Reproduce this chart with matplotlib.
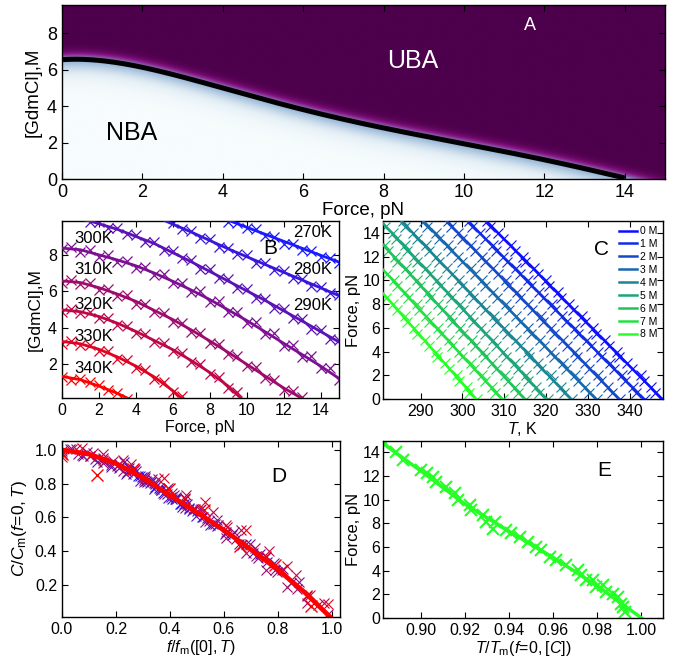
import matplotlib
matplotlib.use("Agg")
import matplotlib.pyplot as plt
import matplotlib.ticker as mticker
import numpy as np

plt.rcParams.update({
    "font.family": "Liberation Sans",
    "font.size": 11.5,
    "mathtext.fontset": "custom",
    "mathtext.rm": "Liberation Sans",
    "mathtext.it": "Liberation Sans:italic",
    "xtick.direction": "in",
    "ytick.direction": "in",
    "xtick.top": True,
    "ytick.right": True,
    "xtick.major.size": 4,
    "ytick.major.size": 4,
    "axes.linewidth": 1.0,
})

# ---- panel A: phase boundary at fixed T ----
A_FORCE = [0, 1, 2, 3, 4, 5, 6, 7, 8, 9, 10, 11, 12, 13, 14]
A_CONC = [6.55, 6.48, 6.15, 5.62, 4.95, 4.38, 3.80, 3.33, 2.80, 2.33, 1.95, 1.50, 1.05, 0.59, 0.05]

# ---- panel B: [GdmCl] vs force, one curve per temperature ----
TEMPS = [270, 280, 290, 300, 310, 320, 330, 340]
B_FIT_F = [
    [9.0, 11, 13, 15],
    [5.6, 7, 9, 11, 13, 15],
    [0, 1.5, 3, 5, 7, 9, 11, 13, 15],
    [0, 1, 2, 3, 4, 5, 6, 7, 8, 9, 10, 11, 12, 13, 14, 15],
    [0, 1, 2, 3, 4, 5, 6, 7, 8, 9, 10, 11, 12, 13, 13.2],
    [0, 1, 2, 3, 4, 5, 6, 7, 8, 9, 9.8],
    [0, 1, 2, 3, 4, 5, 6, 6.6],
    [0, 1, 2, 3, 3.8],
]
B_FIT_C = [
    [9.9, 9.13, 8.36, 7.6],
    [9.86, 9.25, 8.33, 7.47, 6.62, 5.76],
    [10.15, 9.86, 9.4, 8.62, 7.62, 6.56, 5.5, 4.37, 3.22],
    [8.37, 8.28, 8.0, 7.72, 7.4, 7.0, 6.55, 6.07, 5.55, 4.98, 4.4, 3.78, 3.15, 2.53, 1.9, 1.22],
    [6.57, 6.48, 6.2, 5.85, 5.45, 4.95, 4.45, 3.88, 3.28, 2.65, 2.0, 1.35, 0.7, 0.12, 0.0],
    [4.98, 4.88, 4.62, 4.25, 3.8, 3.3, 2.8, 2.2, 1.55, 0.8, 0.02],
    [3.25, 3.12, 2.82, 2.4, 1.9, 1.3, 0.55, 0.02],
    [1.33, 1.15, 0.8, 0.4, 0.02],
]
FORCE_GRID = [0.0, 0.5, 1.0, 1.5, 2.0, 2.5, 3.0, 3.5, 4.0, 4.5, 5.0, 5.5, 6.0, 6.5, 7.0, 7.5,
              8.0, 8.5, 9.0, 9.5, 10.0, 10.5, 11.0, 11.5, 12.0, 12.5, 13.0, 13.5, 14.0, 14.5, 15.0]
B_MARK_START = [9.0, 6.0, 1.5, 0.0, 0.0, 0.0, 0.0, 0.0]
B_MARK_C = [
    [9.80, 9.75, 9.45, 9.40, 9.05, 8.98, 8.62, 8.60, 8.25, 8.22, 7.88, 7.85, 7.55],
    [9.75, 9.40, 9.32, 8.90, 8.86, 8.45, 8.40, 8.02, 7.98, 7.58, 7.55, 7.15, 7.12, 6.72, 6.70,
     6.30, 6.26, 5.88, 5.82],
    [9.80, 9.78, 9.45, 9.45, 9.12, 9.08, 8.72, 8.70, 8.28, 8.22, 7.80, 7.72, 7.25, 7.20, 6.72,
     6.65, 6.20, 6.12, 5.65, 5.60, 5.10, 5.05, 4.52, 4.48, 3.95, 3.90, 3.40, 3.32],
    [8.30, 8.42, 8.18, 8.25, 7.90, 7.98, 7.62, 7.68, 7.28, 7.32, 6.88, 6.95, 6.45, 6.48, 5.96,
     6.00, 5.42, 5.45, 4.85, 4.88, 4.28, 4.30, 3.65, 3.70, 3.02, 3.05, 2.40, 2.45, 1.78, 1.80, 1.12],
    [6.45, 6.62, 6.38, 6.45, 6.08, 6.12, 5.75, 5.78, 5.32, 5.30, 4.85, 4.82, 4.32, 4.28, 3.78,
     3.70, 3.15, 3.10, 2.55, 2.45, 1.88, 1.82, 1.25, 1.15, 0.60, 0.55, 0.18],
    [4.85, 5.02, 4.80, 4.85, 4.52, 4.55, 4.15, 4.12, 3.70, 3.65, 3.20, 3.15, 2.70, 2.62, 2.10,
     2.00, 1.45, 1.30, 0.70, 0.45],
    [3.12, 3.28, 3.05, 3.05, 2.72, 2.70, 2.30, 2.25, 1.80, 1.70, 1.20, 1.02, 0.45, 0.28],
    [1.30, 1.13, 1.18, 1.02, 0.86, 0.57, 0.42, 0.10],
]
B_LABEL_F = [13.55, 13.55, 13.55, 1.7, 1.7, 1.7, 1.7, 1.7]
B_LABEL_C = [9.2, 7.2, 5.2, 8.9, 7.2, 5.3, 3.5, 1.75]

# ---- panel D: rescaled curves (C0 = [C] at f=0, FM = force at [C]=0) ----
D_C0 = [11.6, 10.5, 10.15, 8.37, 6.57, 4.98, 3.25, 1.33]
D_FM = [32.0, 26.0, 19.1, 16.5, 13.2, 9.8, 6.6, 3.8]
D_FIT_X = [0, 0.1, 0.2, 0.3, 0.4, 0.5, 0.6, 0.7, 0.8, 0.9, 1.0]
D_FIT_Y = [1.0, 0.975, 0.92, 0.835, 0.73, 0.63, 0.525, 0.41, 0.29, 0.155, 0.0]

# ---- panel C: force vs T, one line per [GdmCl] ----
CONCS = [0, 1, 2, 3, 4, 5, 6, 7, 8]
C_FIT_T = [[305.7, 347.8], [301.3, 343.4], [296.2, 337.5], [290.6, 332.0], [285.4, 326.0],
           [281.0, 320.1], [281.0, 314.9], [281.0, 309.5], [281.0, 303.3]]
C_FIT_F = [[15, 0], [15, 0], [15, 0], [15, 0], [15, 0],
           [14.8, 0], [13.0, 0], [10.9, 0], [8.9, 0]]
C_MARK_T = [
    [347.5, 346.0, 345.2, 343.4, 342.7, 340.5, 339.5, 337.5, 337.0, 335.1, 334.1, 332.0, 331.2,
     329.3, 328.7, 326.5, 325.4, 323.5, 322.8, 320.8, 320.1, 318.2, 317.1, 315.0, 314.4, 312.5,
     311.7, 309.6, 308.6, 306.7, 306.0],
    [343.7, 341.6, 340.7, 338.9, 338.2, 336.2, 335.3, 333.1, 332.4, 330.7, 329.8, 327.7, 326.9,
     324.8, 323.9, 322.1, 321.4, 319.2, 318.3, 316.3, 315.6, 313.8, 312.9, 310.6, 309.8, 308.0,
     307.4, 305.3, 304.3, 302.3, 301.6],
    [337.8, 335.7, 334.9, 333.2, 332.5, 330.3, 329.3, 327.4, 326.9, 325.0, 324.0, 322.0, 321.2,
     319.3, 318.7, 316.7, 315.6, 313.7, 313.0, 311.0, 310.4, 308.5, 307.4, 305.3, 304.8, 302.9,
     302.1, 300.0, 299.0, 297.2, 296.5],
    [332.3, 330.2, 329.3, 327.6, 326.9, 324.9, 324.0, 321.8, 321.2, 319.5, 318.6, 316.5, 315.7,
     313.7, 312.8, 311.1, 310.4, 308.2, 307.4, 305.4, 304.7, 302.9, 302.0, 299.8, 299.0, 297.2,
     296.6, 294.5, 293.6, 291.6, 290.9],
    [326.3, 324.2, 323.5, 321.7, 321.1, 318.9, 318.0, 316.0, 315.6, 313.7, 312.8, 310.7, 310.0,
     308.1, 307.6, 305.5, 304.4, 302.6, 301.9, 300.0, 299.3, 297.5, 296.4, 294.4, 293.8, 292.0,
     291.2, 289.2, 288.2, 286.3, 285.7],
    [320.4, 318.4, 317.6, 315.8, 315.2, 313.3, 312.5, 310.4, 309.7, 308.1, 307.3, 305.3, 304.5,
     302.5, 301.7, 300.1, 299.5, 297.3, 296.5, 294.6, 294.0, 292.3, 291.4, 289.2, 288.5, 286.8,
     286.2, 284.2, 283.3, 281.4],
    [315.2, 313.2, 312.5, 310.8, 310.2, 308.1, 307.2, 305.3, 304.9, 303.1, 302.2, 300.2, 299.5,
     297.6, 297.1, 295.1, 294.1, 292.3, 291.7, 289.8, 289.2, 287.4, 286.4, 284.4, 283.9, 282.1,
     281.4],
    [309.8, 307.8, 307.0, 305.3, 304.7, 302.8, 302.0, 299.8, 299.2, 297.6, 296.8, 294.8, 294.1,
     292.1, 291.3, 289.7, 289.1, 287.0, 286.2, 284.3, 283.7, 281.9],
    [303.6, 301.6, 301.0, 299.3, 298.8, 296.7, 295.9, 294.0, 293.7, 291.9, 291.1, 289.1, 288.5,
     286.7, 286.3, 284.3, 283.4, 281.6],
]

# ---- panel E: force vs reduced temperature ----
E_FIT_X = [0.880, 0.90, 0.92, 0.94, 0.96, 0.98, 1.00]
E_FIT_Y = [15.1, 12.4, 9.6, 7.3, 5.1, 2.7, 0.0]
E_MARK_X = [0.8833, 0.8886, 0.8917, 0.9000, 0.9026, 0.9053, 0.9068, 0.9114, 0.9152, 0.9167,
            0.9220, 0.9227, 0.9280, 0.9295, 0.9333, 0.9326, 0.9386, 0.9409, 0.9447, 0.9485,
            0.9523, 0.9545, 0.9583, 0.9614, 0.9659, 0.9712, 0.9727, 0.9750, 0.9780, 0.9795,
            0.9826, 0.9841, 0.9871, 0.9894, 0.9909, 0.9917, 0.9924]
E_MARK_Y = [14.76, 14.06, 13.35, 12.50, 12.22, 11.94, 11.50, 11.09, 10.53, 9.96,
            9.54, 9.12, 8.69, 8.13, 8.13, 7.56, 7.42, 7.14, 6.86, 6.44,
            6.01, 5.73, 5.17, 4.88, 4.46, 4.04, 3.61, 3.19, 3.19, 2.62,
            2.77, 2.20, 2.06, 1.78, 1.21, 0.93, 0.51]


def temp_color(i):
    t = i / (len(TEMPS) - 1)
    return (0.1 + 0.9 * t, 0.1 * (1 - t), 1.0 - t)


def conc_color(i):
    t = i / (len(CONCS) - 1)
    return (0.05 + 0.1 * t, 0.05 + 0.95 * t, 1.0 - 0.85 * t)


fig = plt.figure(figsize=(6.81, 6.57), dpi=100)
axA = fig.add_axes([0.091, 0.7275, 0.8855, 0.2649])
axB = fig.add_axes([0.091, 0.3935, 0.4068, 0.2702])
axC = fig.add_axes([0.5624, 0.3927, 0.4112, 0.2710])
axD = fig.add_axes([0.091, 0.0609, 0.4083, 0.2679])
axE = fig.add_axes([0.5624, 0.0594, 0.4112, 0.2694])

# ---------- A ----------
# smooth fit through the read boundary points
coef = np.polyfit(A_FORCE, A_CONC, 5)
f_line = np.linspace(A_FORCE[0], A_FORCE[-1], 300)
c_line = np.polyval(coef, f_line)

ff = np.linspace(0, 15, 450)
cc = np.linspace(0, 9.6, 320)
cb = np.polyval(coef, np.minimum(ff, A_FORCE[-1]))
tail = ff > A_FORCE[-1]
cb[tail] = A_CONC[-1] + (ff[tail] - A_FORCE[-1]) * (A_CONC[-1] - A_CONC[-2])
F2, C2 = np.meshgrid(ff, cc)
d = C2 - cb[None, :]
w = np.where(d > 0, 0.17, 0.42)
prob = 1.0 / (1.0 + np.exp(-d / w))
axA.imshow(prob, extent=[0, 15, 0, 9.6], origin="lower", aspect="auto",
           cmap="BuPu", vmin=0, vmax=1, interpolation="bilinear")
axA.plot(f_line, c_line, color="black", lw=3.6, solid_capstyle="butt")
axA.set_xlim(0, 15)
axA.set_ylim(0, 9.55)
axA.set_xticks(range(0, 15, 2))
axA.set_yticks(range(0, 9, 2))
axA.tick_params(labelsize=13)
axA.set_xlabel("Force, pN", fontsize=13.5, labelpad=1)
axA.set_ylabel("[GdmCl],M", fontsize=13.5)
axA.text(8.73, 6.45, "UBA", color="white", fontsize=18, ha="center", va="center")
axA.text(1.73, 2.55, "NBA", color="black", fontsize=18, ha="center", va="center")
axA.text(11.64, 8.4, "A", color="white", fontsize=13, ha="center", va="center")

# ---------- B ----------
for i, T in enumerate(TEMPS):
    col = temp_color(i)
    axB.plot(B_FIT_F[i], B_FIT_C[i], color=col, lw=2.0, zorder=3)
    start = FORCE_GRID.index(B_MARK_START[i])
    fx = FORCE_GRID[start:start + len(B_MARK_C[i])]
    axB.plot(fx, B_MARK_C[i], ls="none", marker="x", ms=7.5, mew=0.9, color=col, zorder=2)
    axB.text(B_LABEL_F[i], B_LABEL_C[i], f"{T}K", fontsize=12, ha="center", va="center")
axB.text(11.3, 8.37, "B", fontsize=15, ha="center", va="center")
axB.set_xlim(0, 15)
axB.set_ylim(0.12, 9.86)
axB.set_xticks(range(0, 15, 2))
axB.set_yticks([2, 4, 6, 8])
axB.set_xlabel("Force, pN", labelpad=1)
axB.set_ylabel("[GdmCl],M", fontsize=12.5)

# ---------- C ----------
for i, c in enumerate(CONCS):
    col = conc_color(i)
    axC.plot(C_FIT_T[i], C_FIT_F[i], color=col, lw=1.8, label=f"{c} M", zorder=3)
    axC.plot(C_MARK_T[i], FORCE_GRID[:len(C_MARK_T[i])], ls="none", marker="x", ms=6.5,
             mew=0.8, color=col, zorder=2)
axC.text(333.2, 12.6, "C", fontsize=15, ha="center", va="center")
axC.set_xlim(281, 348)
axC.set_ylim(0, 15)
axC.set_xticks(range(290, 341, 10))
axC.set_yticks(range(0, 15, 2))
axC.tick_params(axis="y", pad=2)
axC.set_xlabel("$T$, K", labelpad=1)
axC.set_ylabel("Force, pN", fontsize=12, labelpad=1)
axC.legend(loc="upper right", fontsize=7.5, frameon=False, handlelength=1.7,
           handletextpad=0.3, labelspacing=0.28, borderaxespad=0.3, borderpad=0.2)

# ---------- D ----------
for i, T in enumerate(TEMPS):
    start = FORCE_GRID.index(B_MARK_START[i])
    fx = np.array(FORCE_GRID[start:start + len(B_MARK_C[i])])
    big = T == TEMPS[-1]
    axD.plot(fx / D_FM[i], np.array(B_MARK_C[i]) / D_C0[i], ls="none", marker="x",
             ms=9 if big else 7, mew=1.0 if big else 0.8, color=temp_color(i))
axD.plot(D_FIT_X, D_FIT_Y, color="red", lw=3.4)
axD.text(0.804, 0.842, "D", fontsize=15, ha="center", va="center")
axD.set_xlim(0, 1.03)
axD.set_ylim(0.01, 1.053)
axD.set_xticks(np.arange(0, 1.01, 0.2))
axD.set_yticks([0.2, 0.4, 0.6, 0.8, 1.0])
axD.xaxis.set_major_formatter(mticker.FormatStrFormatter("%.1f"))
axD.yaxis.set_major_formatter(mticker.FormatStrFormatter("%.1f"))
axD.set_xlabel(r"$f/f_{\rm m}([0],T)$", labelpad=1)
axD.set_ylabel(r"$C/C_{\rm m}(f\!=\!0,T)$", fontsize=12.5)

# ---------- E ----------
green = conc_color(len(CONCS) - 1)
axE.plot(E_MARK_X, E_MARK_Y, ls="none", marker="x", ms=9, mew=1.5, color=green)
axE.plot(E_FIT_X, E_FIT_Y, color=green, lw=2.5)
axE.text(0.9833, 12.5, "E", fontsize=15, ha="center", va="center")
axE.set_xlim(0.8826, 1.0098)
axE.set_ylim(0, 14.96)
axE.set_xticks([0.90, 0.92, 0.94, 0.96, 0.98, 1.00])
axE.set_yticks(range(0, 15, 2))
axE.tick_params(axis="y", pad=2)
axE.xaxis.set_major_formatter(mticker.FormatStrFormatter("%.2f"))
axE.set_xlabel(r"$T/T_{\rm m}(f\!=\!0,[C])$", labelpad=1)
axE.set_ylabel("Force, pN", fontsize=12, labelpad=1)

fig.savefig("out.png", dpi=100)
